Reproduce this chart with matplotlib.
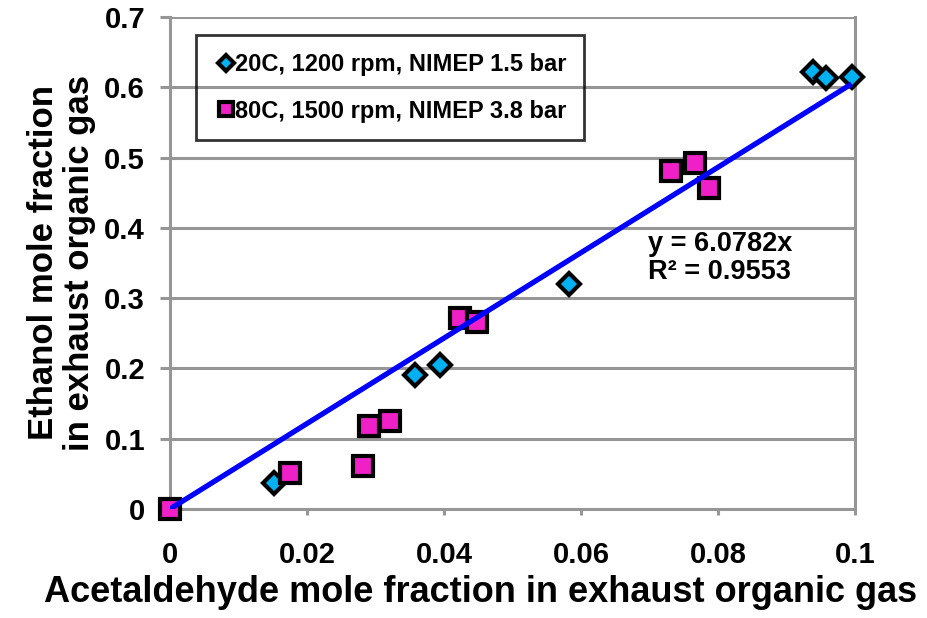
import numpy as np
import matplotlib.pyplot as plt

plt.rcParams['font.family'] = ['Liberation Sans', 'DejaVu Sans']
plt.rcParams['font.weight'] = 'bold'

# 20C, 1200 rpm, NIMEP 1.5 bar
x_cold = [0.0152, 0.0358, 0.0394, 0.0582, 0.0939, 0.0958, 0.0995]
y_cold = [0.037, 0.190, 0.205, 0.320, 0.622, 0.613, 0.614]

# 80C, 1500 rpm, NIMEP 3.8 bar
x_hot = [0.0, 0.0175, 0.0282, 0.0290, 0.0321, 0.0423, 0.0448, 0.0731, 0.0766, 0.0787]
y_hot = [0.0, 0.051, 0.061, 0.118, 0.125, 0.272, 0.266, 0.481, 0.492, 0.457]

slope = 6.0782
r2 = 0.9553
fit_x = np.array([0.0, 0.0995])

fig = plt.figure(figsize=(9.28, 6.18), dpi=100)
ax = fig.add_axes([0.1832, 0.1764, 0.7381, 0.7961])

grid_c = '#969696'
ax.set_xlim(0, 0.1)
ax.set_ylim(0, 0.7)
ax.set_xticks([0, 0.02, 0.04, 0.06, 0.08, 0.1])
ax.set_xticklabels(['0', '0.02', '0.04', '0.06', '0.08', '0.1'])
ax.set_yticks(np.arange(0, 0.71, 0.1))
ax.set_yticklabels(['0', '0.1', '0.2', '0.3', '0.4', '0.5', '0.6', '0.7'])
ax.yaxis.grid(True, color=grid_c, linewidth=2.2)
ax.set_axisbelow(True)
for s in ax.spines.values():
    s.set_color(grid_c)
    s.set_linewidth(2.2)
ax.spines['top'].set_visible(False)
ax.tick_params(axis='x', colors=grid_c, width=2.2, length=4, labelsize=21,
               labelcolor='black', pad=19)
ax.tick_params(axis='y', colors=grid_c, width=2.2, length=7, labelsize=21,
               labelcolor='black', pad=11)

ax.plot(x_cold, y_cold, linestyle='none', marker='D', markersize=11.5,
        markerfacecolor='#00B0F0', markeredgecolor='black', markeredgewidth=3,
        label='20C, 1200 rpm, NIMEP 1.5 bar', zorder=3, clip_on=False)
ax.plot(x_hot, y_hot, linestyle='none', marker='s', markersize=14.5,
        markerfacecolor='#F020C8', markeredgecolor='black', markeredgewidth=3,
        label='80C, 1500 rpm, NIMEP 3.8 bar', zorder=3, clip_on=False)
ax.plot(fit_x, slope * fit_x, color='#0000FF', linewidth=3.8, zorder=4,
        solid_capstyle='butt')

ax.text(0.0698, 0.357, 'y = %.4fx\nR² = %.4f' % (slope, r2), fontsize=19.5,
        fontweight='bold', linespacing=1.1, va='center', ha='left')

leg = ax.legend(loc='upper left', bbox_to_anchor=(0.038, 0.963), fontsize=17,
                frameon=True, fancybox=False, facecolor='none', edgecolor='black',
                handletextpad=-0.1, handlelength=1.0, borderpad=0.75,
                borderaxespad=0, labelspacing=1.0, markerscale=0.7)
leg.get_frame().set_linewidth(2)

ax.set_xlabel('Acetaldehyde mole fraction in exhaust organic gas', fontsize=26,
              fontweight='bold')
ax.xaxis.set_label_coords((481 - 170) / 685, -0.134)
ax.xaxis.label.set_va('top')
ax.set_ylabel('Ethanol mole fraction\nin exhaust organic gas', fontsize=25,
              fontweight='bold', labelpad=6, linespacing=1.1)

fig.savefig('out.png', dpi=100)
